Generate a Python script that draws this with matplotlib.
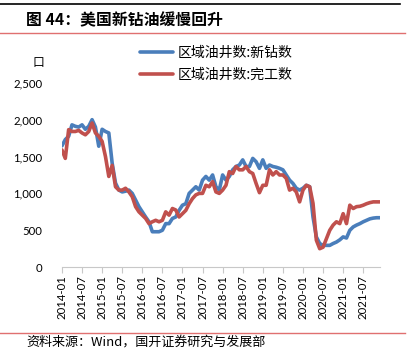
import matplotlib
matplotlib.use("Agg")
import matplotlib.pyplot as plt
import matplotlib.ticker as mticker
import numpy as np

plt.rcParams['font.family'] = ['Lato', 'Noto Sans CJK SC', 'DejaVu Sans']

# monthly data, 2014-01 .. 2021-12
months = [f"{y}-{m:02d}" for y in range(2014, 2022) for m in range(1, 13)]

new_drilled = [1645, 1730, 1775, 1930, 1910, 1900, 1930, 1870, 1910, 2000, 1900, 1640,
               1870, 1840, 1820, 1410, 1140, 1045, 1020, 1030, 1045, 1000, 910, 820,
               750, 680, 615, 480, 480, 480, 500, 590, 590, 660, 680, 770,
               840, 860, 1000, 1045, 1090, 1045, 1180, 1230, 1180, 1250, 1090, 1045,
               1250, 1180, 1230, 1320, 1365, 1385, 1455, 1365, 1365, 1475, 1430, 1340,
               1455, 1340, 1385, 1365, 1355, 1340, 1320, 1250, 1180, 1135, 1070, 1045,
               1070, 1110, 1090, 680, 410, 320, 295, 295, 295, 320, 340, 370,
               410, 395, 500, 545, 570, 590, 615, 635, 655, 665, 670, 670]

completed = [1590, 1475, 1865, 1840, 1840, 1855, 1820, 1795, 1840, 1955, 1820, 1775,
             1705, 1500, 1230, 1380, 1090, 1045, 1045, 1070, 1020, 955, 820, 750,
             705, 660, 590, 615, 635, 615, 635, 750, 705, 795, 775, 680,
             725, 770, 860, 930, 980, 1000, 1000, 1110, 1090, 1160, 1020, 1000,
             1045, 1110, 1295, 1270, 1365, 1320, 1320, 1365, 1295, 1270, 1135, 1010,
             1110, 1110, 1320, 1250, 1295, 1250, 1250, 1205, 1045, 1070, 1020, 885,
             1045, 1110, 1090, 865, 365, 250, 270, 385, 500, 570, 615, 590,
             725, 590, 840, 795, 820, 825, 840, 860, 875, 885, 885, 885]

tick_labels = ["2014-01", "2014-07", "2015-01", "2015-07", "2016-01", "2016-07",
               "2017-01", "2017-07", "2018-01", "2018-07", "2019-01", "2019-07",
               "2020-01", "2020-07", "2021-01", "2021-07"]
y_ticks = [0, 500, 1000, 1500, 2000, 2500]

blue = '#4a7ebb'
red = '#c0504d'
cjk = ['Noto Sans CJK SC']

fig = plt.figure(figsize=(4.13, 3.51), dpi=100)
ax = fig.add_axes([0.150, 0.239, 0.770, 0.525])

x = np.arange(len(months))
ax.plot(x, new_drilled, color=blue, lw=2.6, label='区域油井数:新钻数', solid_capstyle='round')
ax.plot(x, completed, color=red, lw=2.6, label='区域油井数:完工数', solid_capstyle='round')

ax.set_xlim(0, len(months) - 1)
ax.set_ylim(0, 2500)
ax.set_yticks(y_ticks)
ax.yaxis.set_major_formatter(mticker.FuncFormatter(lambda v, p: f"{int(v):,}"))
ax.set_xticks([months.index(t) for t in tick_labels])
ax.set_xticklabels(tick_labels, rotation=90, fontsize=8.2)
ax.tick_params(axis='y', length=0, labelsize=8.2, pad=14)
ax.tick_params(axis='x', length=4, color='#c8c8c8', pad=2)
for s in ['top', 'right', 'left']:
    ax.spines[s].set_visible(False)
ax.spines['bottom'].set_color('#c8c8c8')

fig.text(0.092, 0.823, '口', fontsize=8.5, family=cjk, ha='center', va='center')

leg = fig.legend(loc='center left', bbox_to_anchor=(0.339, 0.819), frameon=False,
                 handlelength=2.4, handletextpad=0.3, labelspacing=0.6,
                 borderpad=0, borderaxespad=0,
                 prop={'family': cjk, 'size': 10})

# header / footer decorations
fig.add_artist(plt.Line2D([0, 0.968], [0.988, 0.988], color='black', lw=1.2))
fig.text(0.063, 0.943, '图 44：美国新钻油缓慢回升', fontsize=11.4, fontweight='bold',
         family=cjk, va='center')
fig.add_artist(plt.Line2D([0, 0.98], [0.906, 0.906], color='#e07070', lw=1.0))
fig.add_artist(plt.Line2D([0, 0.98], [0.051, 0.051], color='#e07070', lw=1.0))
fig.text(0.063, 0.025, '资料来源：Wind，国开证券研究与发展部', fontsize=9.4,
         family=cjk, va='center')

fig.savefig('out.png', dpi=100)
